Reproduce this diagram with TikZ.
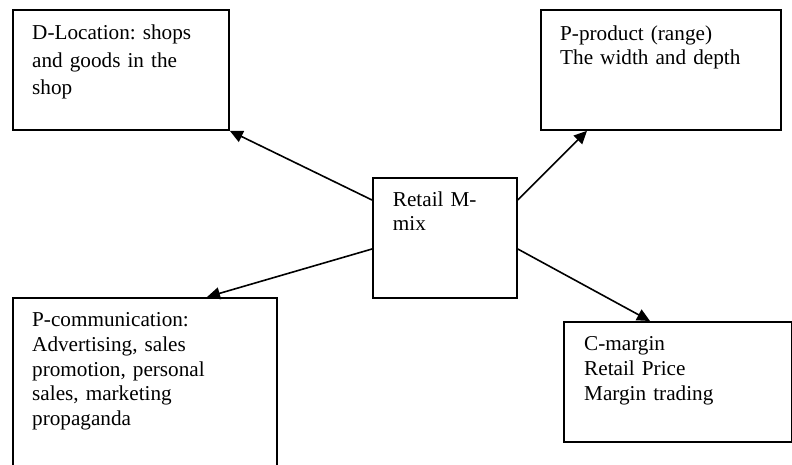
\documentclass[tikz,border=0pt]{standalone}
\usepackage{fontspec}
\setmainfont{Liberation Serif}
\usetikzlibrary{arrows.meta,calc}
\frenchspacing
\begin{document}
\begin{tikzpicture}[x=1pt,y=-1pt,
  box/.style={draw=black, line width=1.8pt, inner sep=0pt, anchor=north west},
  txt/.style={inner sep=0pt, anchor=north west, align=left, text width=#1},
  txt/.default=210pt,
  arr/.style={line width=1.6pt, -{Triangle[length=13pt,width=12pt]}}]
\useasboundingbox (0,0) rectangle (792,464);
\newcommand{\firststrut}{\rule{0pt}{15.75pt}}
% boxes
\node[box, minimum width=216pt, minimum height=120pt] (loc) at (12,9) {};
\node[box, minimum width=240pt, minimum height=120pt] (pp) at (540,9) {};
\node[box, minimum width=144pt, minimum height=120pt] (mix) at (372,177) {};
\node[box, minimum width=264pt, minimum height=178pt] (pc) at (12,297) {};
\node[box, minimum width=228pt, minimum height=120pt] (cm) at (563,321) {};
% texts
\node[txt, font={\fontsize{21.2}{27.5}\selectfont}] (loctext) at (32,23.55)
  {\firststrut D-Location: shops\\and goods in the\\shop};
\node[txt, font={\fontsize{21.2}{24}\selectfont}] (pptext) at (560,24.25)
  {\firststrut P-product (range)\\The width and depth};
\node[txt=115pt, font={\fontsize{21.2}{24.7}\selectfont}] (mixtext) at (392.7,190.25)
  {\firststrut Retail M-\\mix};
\node[txt, font={\fontsize{21.2}{24.6}\selectfont}] (pctext) at (32,310.95)
  {\firststrut P-communication:\\Advertising, sales\\promotion, personal\\sales, marketing\\propaganda};
\node[txt, font={\fontsize{21.2}{25}\selectfont}] (cmtext) at (584,334.95)
  {\firststrut C-margin\\Retail Price\\Margin trading};
% connectors
\draw[arr] ($(mix.north west)+(0,23)$) -- (loc.south east);
\draw[arr] ($(mix.north east)+(0,23)$) -- ($(pp.south west)+(47,0)$);
\draw[arr] ($(mix.north west)+(0,72)$) -- ($(pc.north west)+(195,0)$);
\draw[arr] ($(mix.north east)+(0,72)$) -- ($(cm.north west)+(87,0)$);
\end{tikzpicture}
\end{document}
